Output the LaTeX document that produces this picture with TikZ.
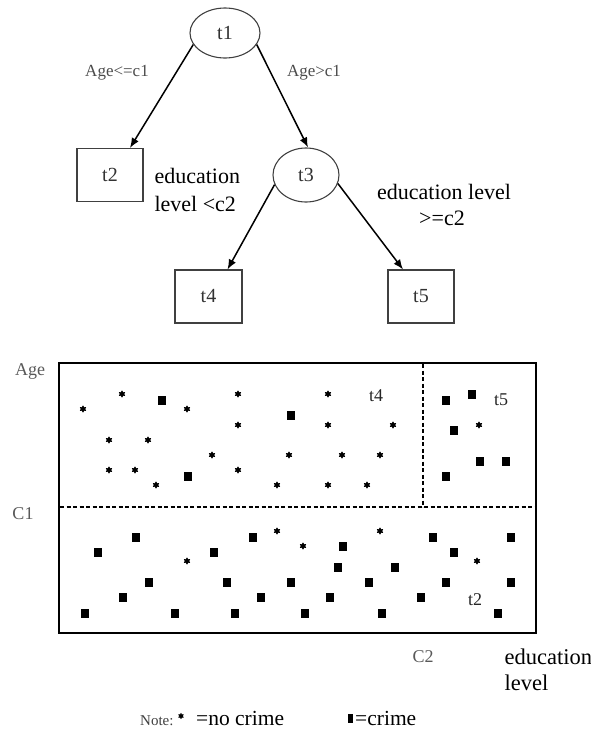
\documentclass[tikz,border=0pt]{standalone}
\usepackage{fontspec}
\setmainfont{Liberation Serif}
\usetikzlibrary{arrows.meta,shapes.geometric}
\begin{document}
\begin{tikzpicture}[x=1pt,y=-1pt,
  split/.style={ellipse, draw=black!75, line width=1.1pt, inner sep=0pt,
    font=\fontsize{20}{24}\selectfont, text=black!80},
  leaf/.style={rectangle, draw=black!75, line width=1.1pt, inner sep=0pt,
    minimum width=66pt, minimum height=53pt,
    font=\fontsize{20}{24}\selectfont, text=black!80},
  edge/.style={line width=1.5pt, -{Latex[length=10pt,width=8pt]}},
  cond/.style={anchor=base, font=\fontsize{17}{20}\selectfont, text=black!70},
  edutext/.style={anchor=base west, font=\fontsize{22}{26}\selectfont},
  axistext/.style={anchor=base, font=\fontsize{18}{22}\selectfont, text=black!65},
  regiontext/.style={anchor=base, font=\fontsize{18}{22}\selectfont, text=black!85},
  crime/.style={rectangle, fill=black, inner sep=0pt, minimum width=8pt, minimum height=9pt},
  nocrime/.style={star, star points=6, star point ratio=1.7, fill=black, draw=black,
    line width=0.4pt, inner sep=0pt, minimum size=6.5pt},
  split line/.style={line width=1.3pt, dash pattern=on 4pt off 2.5pt},
]
\useasboundingbox (0,0) rectangle (591,729);

% ---------- decision tree ----------
\node[split, minimum width=70pt, minimum height=50pt] (t1) at (225,33) {t1};
\node[leaf] (t2) at (110,175) {t2};
\node[split, minimum width=66pt, minimum height=54pt] (t3) at (306,175) {t3};
\node[leaf, minimum width=67pt] (t4) at (208.5,296.5) {t4};
\node[leaf] (t5) at (421,296.5) {t5};

\draw[edge] (t1.200) -- ([xshift=20pt]t2.north);
\draw[edge] (t1.340) -- ([xshift=2pt]t3.north);
\draw[edge] (t3.197) -- ([xshift=19pt]t4.north);
\draw[edge] (t3.345) -- ([xshift=-18pt]t5.north);

\node[cond] (c1le) at (117,76) {Age<=c1};
\node[cond] (c1gt) at (314,76) {Age>c1};
\node[edutext] (e2a) at (151,183) {education};
\node[edutext] (e2b) at (151,211) {level <c2};
\node[edutext, anchor=base] (e5a) at (444,199) {education level};
\node[edutext, anchor=base] (e5b) at (442,225) {>=c2};

% ---------- partition of the plane ----------
\draw[line width=2.4pt] (59,363) rectangle (536,633);
\draw[split line] (60,507) -- (535,507);
\draw[split line] (423,364) -- (423,507);

\node[axistext] (agelab) at (30,375) {Age};
\node[axistext] (c1lab) at (23,519) {C1};
\node[axistext] (c2lab) at (423,662) {C2};
\node[edutext, font=\fontsize{22.5}{26}\selectfont] (xa) at (501,664) {education};
\node[edutext, font=\fontsize{22.5}{26}\selectfont] (xb) at (501,690) {level};

\node[regiontext] (r4) at (376,401) {t4};
\node[regiontext] (r5) at (501,405) {t5};
\node[regiontext] (r2) at (475,605) {t2};

% observations without crime
\foreach \x/\y [count=\i] in {83/409, 122/394, 187/409, 238/394, 238/425, 109/440,
    148/440, 212/455, 289/455, 109/470, 135/470, 238/470, 156/485, 277/485,
    328/394, 328/425, 393/425, 342/455, 380/455, 328/485, 367/485, 479/425,
    187/561, 277/531, 303/546, 380/531, 477/561}
  \node[nocrime] (nc\i) at (\x,\y) {};

% observations with crime
\foreach \x/\y [count=\i] in {162/400, 291/415, 188/476, 446/400, 472/394, 454/430,
    480/461, 506/461, 446/476,
    98/552, 136/537, 214/552, 253/537, 149/582, 227/582, 291/582, 123/597,
    261/597, 85/613, 175/613, 235/613, 343/546, 433/537, 454/552, 511/537,
    338/567, 395/567, 369/582, 446/582, 511/582, 330/597, 421/597, 305/613,
    382/613, 498/613}
  \node[crime] (cr\i) at (\x,\y) {};

% ---------- legend ----------
\node[anchor=base west, font=\fontsize{15}{18}\selectfont, text=black!75, inner sep=0pt] (note) at (140,725) {Note:};
\node[nocrime, minimum size=5.5pt] (notestar) at (181,716) {};
\node[anchor=base west, font=\fontsize{21.5}{26}\selectfont, inner sep=0pt] (nocrimetxt) at (196,725) {=no crime};
\node[rectangle, fill=black, inner sep=0pt, minimum width=5pt, minimum height=9pt] (legsq) at (350.5,718) {};
\node[anchor=base west, font=\fontsize{21.5}{26}\selectfont, inner sep=0pt] (crimetxt) at (355,725) {=crime};
\end{tikzpicture}
\end{document}
